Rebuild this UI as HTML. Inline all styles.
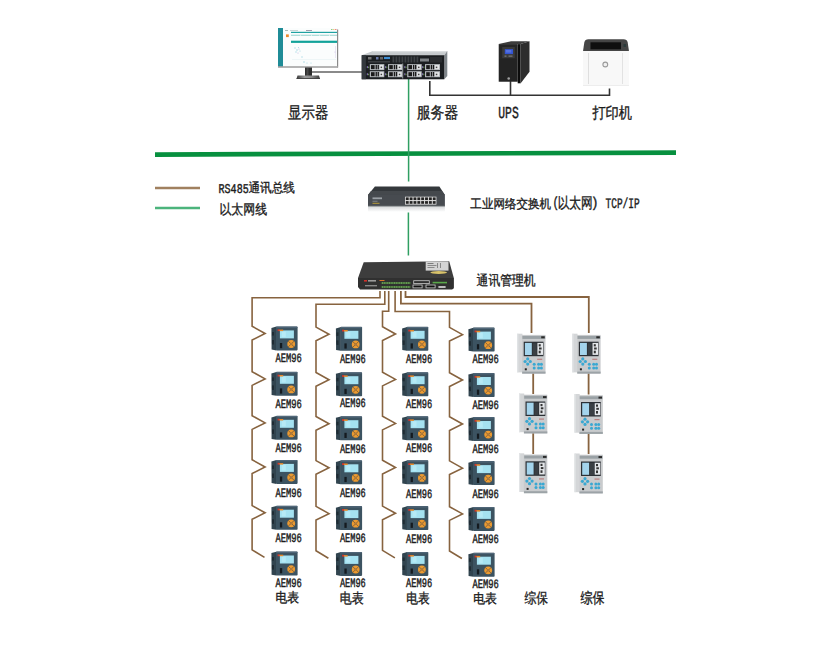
<!DOCTYPE html>
<html><head><meta charset="utf-8"><style>
html,body{margin:0;padding:0;background:#fff;}
body{width:829px;height:669px;overflow:hidden;position:relative;}
svg{position:absolute;left:0;top:0;}
text{font-family:"Liberation Sans",sans-serif;fill:#1c1c1c;stroke:#1c1c1c;stroke-width:0.35px;text-rendering:geometricPrecision}
text.lat{font-family:"Liberation Mono",monospace;stroke-width:0.45px}

</style></head><body>
<svg width="829" height="669" viewBox="0 0 829 669">
<line x1="155" y1="154.6" x2="676" y2="152.6" stroke="#07903f" stroke-width="4.7"/>
<path d="M408.6 79 V181.6 M408.4 212.4 V255.5" stroke="#2f9f62" stroke-width="1.5" fill="none"/>
<path d="M312 72 H362" stroke="#8a8a8a" stroke-width="2" fill="none"/>
<path d="M429.8 81 V95.3 H609.5 V88.5 M510.5 81 V95.3" stroke="#333" stroke-width="1.6" fill="none"/>
<line x1="155" y1="188" x2="200" y2="188" stroke="#a0805f" stroke-width="2.3"/>
<line x1="155" y1="208" x2="200" y2="208" stroke="#4cb47c" stroke-width="2.3"/>
<path d="M380 291 V297.8 H252.1 V326.3 L265.1 333.5 L252.1 340 V371.7 L265.1 378.9 L252.1 385.4 V415.7 L265.1 422.9 L252.1 429.4 V459.8 L265.1 467.0 L252.1 473.5 V505.6 L265.1 512.8 L252.1 519.3 V549.9 L264.5 557.4" stroke="#87633f" stroke-width="1.6" fill="none" stroke-linejoin="miter"/>
<path d="M384.8 291 V304.3 H316 V327.1 L329 334.3 L316 340.8 V372.5 L329 379.7 L316 386.2 V416.5 L329 423.7 L316 430.2 V460.6 L329 467.8 L316 474.3 V506.40000000000003 L329 513.6 L316 520.1 V550.6999999999999 L328.4 558.1999999999999" stroke="#87633f" stroke-width="1.6" fill="none" stroke-linejoin="miter"/>
<path d="M388.7 291 V311.2 H382.5 V326.8 L395.5 334.0 L382.5 340.5 V372.2 L395.5 379.4 L382.5 385.9 V416.2 L395.5 423.4 L382.5 429.9 V460.3 L395.5 467.5 L382.5 474.0 V506.1 L395.5 513.3 L382.5 519.8 V550.4 L394.9 557.9" stroke="#87633f" stroke-width="1.6" fill="none" stroke-linejoin="miter"/>
<path d="M395.1 291 V311.5 H449.5 V327.40000000000003 L462.5 334.6 L449.5 341.1 V372.8 L462.5 380.0 L449.5 386.5 V416.8 L462.5 424.0 L449.5 430.5 V460.90000000000003 L462.5 468.1 L449.5 474.6 V506.70000000000005 L462.5 513.9000000000001 L449.5 520.4000000000001 V551.0 L461.9 558.5" stroke="#87633f" stroke-width="1.6" fill="none" stroke-linejoin="miter"/>
<path d="M400.9 291 V303.6 H531.5 V333 M405.5 291 V297 H588.8 V333 M533.2 373 V394 M533.2 433 V454 M588.6 373 V394.5 M588.6 433 V454" stroke="#87633f" stroke-width="1.8" fill="none"/>
<g>
<rect x="278" y="28" width="60" height="39.3" fill="#fbfdfd"/>
<rect x="278" y="28" width="5" height="39" fill="#1f8c97"/>
<rect x="285" y="30.2" width="3" height="0.8" fill="#9aa"/><rect x="290" y="30.2" width="8" height="0.8" fill="#bcc"/><rect x="306" y="30.2" width="6" height="0.8" fill="#889"/>
<rect x="331" y="29" width="1.5" height="1" fill="#8c8"/><rect x="333" y="29" width="1.5" height="1" fill="#ec8"/><rect x="335" y="29" width="1.5" height="1" fill="#e88"/>
<rect x="291" y="31.8" width="46.5" height="1.2" fill="#1fa2a2"/>
<rect x="291" y="34.7" width="46.5" height="1.2" fill="#a6dad6"/>
<rect x="300" y="34.7" width="0.6" height="1.2" fill="#fff"/><rect x="311" y="34.7" width="0.6" height="1.2" fill="#fff"/><rect x="319.5" y="34.7" width="0.6" height="1.2" fill="#fff"/><rect x="329" y="34.7" width="0.6" height="1.2" fill="#fff"/>
<rect x="286" y="34.4" width="2.8" height="2.7" fill="#ec8a2c"/>
<rect x="291" y="40.7" width="46.5" height="2.2" fill="#12a29a"/>
<g fill="#a8d8e4"><circle cx="295" cy="48" r="0.7"/><circle cx="297" cy="50" r="0.8"/><circle cx="298.5" cy="47.5" r="0.6"/><circle cx="296" cy="52" r="0.7"/><circle cx="300" cy="51" r="0.6"/><circle cx="302" cy="57" r="0.7"/><circle cx="304" cy="62" r="0.8"/><circle cx="307" cy="63" r="0.6"/><circle cx="311" cy="63" r="0.6"/></g>
<g fill="#c8b8e0"><circle cx="298" cy="53" r="0.6"/><circle cx="299" cy="49" r="0.6"/><circle cx="335" cy="52" r="0.5"/></g>
<rect x="335.5" y="46" width="0.5" height="12" fill="#d8d0ec"/>
<rect x="292" y="59.5" width="44" height="0.5" fill="#e0eef0"/>
<rect x="337" y="29.5" width="1.2" height="38" fill="#8a8a8a"/>
<rect x="278" y="66.2" width="60" height="1.6" fill="#a4a4a4"/>
<rect x="305" y="67.5" width="7" height="9" fill="#2e2e2e"/>
<rect x="306.5" y="68" width="2" height="8" fill="#4a4a4a"/>
<defs><linearGradient id="mb" x1="0" y1="0" x2="1" y2="0"><stop offset="0" stop-color="#3a3a3a"/><stop offset="0.35" stop-color="#9a9a9a"/><stop offset="0.65" stop-color="#8a8a8a"/><stop offset="1" stop-color="#3a3a3a"/></linearGradient></defs>
<path d="M297.5 75.6 H319 L320 78.8 H296.5 Z" fill="url(#mb)"/>
<rect x="296.5" y="78" width="23.5" height="0.8" fill="#333"/>
</g>
<g>
<path d="M361.6 55.2 L373 51.1 H447.3 L444.3 55.2 Z" fill="#c6cacd"/>
<path d="M373 51.1 H447.3 L446.5 52.3 H372 Z" fill="#dadddf"/>
<path d="M444.3 55.2 L447.3 51.1 V76 L444.3 79.3 Z" fill="#80878c"/>
<rect x="361.6" y="55.2" width="82.7" height="24.1" fill="#1b1e21"/>
<rect x="361.9" y="55.2" width="4" height="24" fill="#33383d"/>
<rect x="368" y="57" width="3.5" height="2.5" fill="#777"/>
<rect x="376" y="57" width="2.5" height="2.5" fill="#6a7aa8"/>
<rect x="380" y="57" width="3" height="2.5" fill="#666"/>
<rect x="384" y="56.9" width="6" height="2.2" fill="#3f8ed2"/>
<rect x="368" y="61" width="22" height="1.6" fill="#3a3d40"/>
<rect x="392.5" y="56.5" width="1.8" height="6" fill="#3e4246"/>
<rect x="395.5" y="56.5" width="1.8" height="6" fill="#3e4246"/>
<rect x="398.5" y="56.5" width="1.8" height="6" fill="#3e4246"/>
<rect x="401.5" y="56.5" width="1.8" height="6" fill="#3e4246"/>
<rect x="404.5" y="56.5" width="1.8" height="6" fill="#3e4246"/>
<rect x="407.5" y="56.5" width="1.8" height="6" fill="#3e4246"/>
<rect x="410.5" y="56.5" width="1.8" height="6" fill="#3e4246"/>
<rect x="413.5" y="56.5" width="1.8" height="6" fill="#3e4246"/>
<rect x="416.5" y="56.5" width="1.8" height="6" fill="#3e4246"/>
<rect x="420" y="58.5" width="9" height="3" fill="#7d8185"/>
<rect x="430" y="57" width="12" height="5.5" fill="#2a2d30"/>
<rect x="369.8" y="64.1" width="14.5" height="6" fill="#b4b8bc"/>
<rect x="371.0" y="65.1" width="3.6" height="4" fill="#1a1a1a"/>
<rect x="375.6" y="64.89999999999999" width="1.3" height="4.4" fill="#1a1a1a"/>
<rect x="377.6" y="64.89999999999999" width="1.3" height="4.4" fill="#1a1a1a"/>
<rect x="379.8" y="65.1" width="3.5" height="4" fill="#e6e8ea"/>
<rect x="380.6" y="66.6" width="1.5" height="1.5" fill="#444"/>
<rect x="366.8" y="66.1" width="1.2" height="2" fill="#7a6aa8"/>
<rect x="368.1" y="66.6" width="1" height="1.5" fill="#6a9a4a"/>
<rect x="388" y="64.1" width="14.5" height="6" fill="#b4b8bc"/>
<rect x="389.2" y="65.1" width="3.6" height="4" fill="#1a1a1a"/>
<rect x="393.8" y="64.89999999999999" width="1.3" height="4.4" fill="#1a1a1a"/>
<rect x="395.8" y="64.89999999999999" width="1.3" height="4.4" fill="#1a1a1a"/>
<rect x="398" y="65.1" width="3.5" height="4" fill="#e6e8ea"/>
<rect x="398.8" y="66.6" width="1.5" height="1.5" fill="#444"/>
<rect x="385" y="66.1" width="1.2" height="2" fill="#7a6aa8"/>
<rect x="386.3" y="66.6" width="1" height="1.5" fill="#6a9a4a"/>
<rect x="407.2" y="64.1" width="14.5" height="6" fill="#b4b8bc"/>
<rect x="408.4" y="65.1" width="3.6" height="4" fill="#1a1a1a"/>
<rect x="413.0" y="64.89999999999999" width="1.3" height="4.4" fill="#1a1a1a"/>
<rect x="415.0" y="64.89999999999999" width="1.3" height="4.4" fill="#1a1a1a"/>
<rect x="417.2" y="65.1" width="3.5" height="4" fill="#e6e8ea"/>
<rect x="418.0" y="66.6" width="1.5" height="1.5" fill="#444"/>
<rect x="404.2" y="66.1" width="1.2" height="2" fill="#7a6aa8"/>
<rect x="405.5" y="66.6" width="1" height="1.5" fill="#6a9a4a"/>
<rect x="425" y="64.1" width="15" height="6" fill="#b4b8bc"/>
<rect x="426.2" y="65.1" width="3.6" height="4" fill="#1a1a1a"/>
<rect x="430.8" y="64.89999999999999" width="1.3" height="4.4" fill="#1a1a1a"/>
<rect x="432.8" y="64.89999999999999" width="1.3" height="4.4" fill="#1a1a1a"/>
<rect x="435" y="65.1" width="4" height="4" fill="#e6e8ea"/>
<rect x="435.8" y="66.6" width="1.5" height="1.5" fill="#444"/>
<rect x="422" y="66.1" width="1.2" height="2" fill="#7a6aa8"/>
<rect x="423.3" y="66.6" width="1" height="1.5" fill="#6a9a4a"/>
<rect x="369.8" y="71.2" width="14.5" height="6" fill="#b4b8bc"/>
<rect x="371.0" y="72.2" width="3.6" height="4" fill="#1a1a1a"/>
<rect x="375.6" y="72.0" width="1.3" height="4.4" fill="#1a1a1a"/>
<rect x="377.6" y="72.0" width="1.3" height="4.4" fill="#1a1a1a"/>
<rect x="379.8" y="72.2" width="3.5" height="4" fill="#e6e8ea"/>
<rect x="380.6" y="73.7" width="1.5" height="1.5" fill="#444"/>
<rect x="366.8" y="73.2" width="1.2" height="2" fill="#7a6aa8"/>
<rect x="368.1" y="73.7" width="1" height="1.5" fill="#6a9a4a"/>
<rect x="388" y="71.2" width="14.5" height="6" fill="#b4b8bc"/>
<rect x="389.2" y="72.2" width="3.6" height="4" fill="#1a1a1a"/>
<rect x="393.8" y="72.0" width="1.3" height="4.4" fill="#1a1a1a"/>
<rect x="395.8" y="72.0" width="1.3" height="4.4" fill="#1a1a1a"/>
<rect x="398" y="72.2" width="3.5" height="4" fill="#e6e8ea"/>
<rect x="398.8" y="73.7" width="1.5" height="1.5" fill="#444"/>
<rect x="385" y="73.2" width="1.2" height="2" fill="#7a6aa8"/>
<rect x="386.3" y="73.7" width="1" height="1.5" fill="#6a9a4a"/>
<rect x="407.2" y="71.2" width="14.5" height="6" fill="#b4b8bc"/>
<rect x="408.4" y="72.2" width="3.6" height="4" fill="#1a1a1a"/>
<rect x="413.0" y="72.0" width="1.3" height="4.4" fill="#1a1a1a"/>
<rect x="415.0" y="72.0" width="1.3" height="4.4" fill="#1a1a1a"/>
<rect x="417.2" y="72.2" width="3.5" height="4" fill="#e6e8ea"/>
<rect x="418.0" y="73.7" width="1.5" height="1.5" fill="#444"/>
<rect x="404.2" y="73.2" width="1.2" height="2" fill="#7a6aa8"/>
<rect x="405.5" y="73.7" width="1" height="1.5" fill="#6a9a4a"/>
<rect x="425" y="71.2" width="15" height="6" fill="#b4b8bc"/>
<rect x="426.2" y="72.2" width="3.6" height="4" fill="#1a1a1a"/>
<rect x="430.8" y="72.0" width="1.3" height="4.4" fill="#1a1a1a"/>
<rect x="432.8" y="72.0" width="1.3" height="4.4" fill="#1a1a1a"/>
<rect x="435" y="72.2" width="4" height="4" fill="#e6e8ea"/>
<rect x="435.8" y="73.7" width="1.5" height="1.5" fill="#444"/>
<rect x="422" y="73.2" width="1.2" height="2" fill="#7a6aa8"/>
<rect x="423.3" y="73.7" width="1" height="1.5" fill="#6a9a4a"/>
<rect x="402.2" y="63.5" width="1" height="15" fill="#9a9ea2"/>
</g>
<g>
<path d="M498.7 44.1 L511 41.2 H529.5 L520.5 44.1 Z" fill="#3c3c3c"/>
<path d="M520.5 44.1 L529.5 41.2 V71.8 L520.5 83.5 Z" fill="#2d2d2d"/>
<rect x="498.7" y="44.1" width="19" height="37.6" fill="#2e2e2e"/>
<rect x="499.3" y="44.6" width="17.8" height="36.6" fill="#262626"/>
<rect x="517.7" y="44.1" width="2.8" height="39.2" fill="#0c0c0c"/>
<rect x="502.2" y="47" width="12.6" height="11.1" fill="#3a3a3a"/>
<rect x="504.8" y="49.1" width="8.2" height="5" fill="#3454d2"/>
<rect x="505.8" y="50" width="5.5" height="2.6" fill="#6a86e6" opacity="0.6"/>
<rect x="504.5" y="55.6" width="2" height="1" fill="#888"/><rect x="508.5" y="55.6" width="4" height="1" fill="#888"/>
<rect x="499.5" y="59" width="17.5" height="21.5" fill="#232323"/>
<circle cx="508.7" cy="78.5" r="1.3" fill="#a0a0a0"/>
</g>
<g>
<path d="M583 51.2 L584.3 42.5 Q585 39.2 588.5 39.2 H623.5 Q627 39.2 627.7 42.5 L629 51.2 Z" fill="#454545"/>
<rect x="590.5" y="42.3" width="30.5" height="7" fill="#0f0f0f"/>
<rect x="623.5" y="44" width="2.5" height="3" fill="#2a3a3a"/>
<rect x="583" y="51" width="46" height="34.6" fill="#f8f8f8"/>
<rect x="588.3" y="53" width="0.7" height="31" fill="#d4d4d4"/>
<rect x="622.2" y="53" width="0.7" height="31" fill="#d8d8d8"/>
<rect x="583" y="85" width="46" height="0.6" fill="#e4e4e4"/>
<circle cx="605.3" cy="64.5" r="2.4" fill="#f0f0f0" stroke="#9a9a9a" stroke-width="1.1"/>
</g>
<g>
<path d="M374.9 186.5 H439.4 L444.9 194.9 H368 Z" fill="#34383c"/>
<path d="M371 191 H442 L444.9 194.9 H368 Z" fill="#45494d"/>
<rect x="368" y="194.9" width="76.9" height="11.5" fill="#474b50"/>
<defs><linearGradient id="swr" x1="0" y1="0" x2="0" y2="1"><stop offset="0" stop-color="#d6d8da"/><stop offset="1" stop-color="#ffffff"/></linearGradient></defs>
<rect x="368" y="206.4" width="76.9" height="5.5" fill="url(#swr)"/>
<rect x="368" y="205.6" width="76.9" height="0.8" fill="#6a6e72"/>
<rect x="405" y="196.7" width="31.4" height="7.9" fill="#e4e4e4"/>
<rect x="372.5" y="197.4" width="9.5" height="1.8" fill="#9aa0a5"/>
<rect x="372.5" y="200.8" width="5" height="0.8" fill="#8a8f94"/>
<rect x="372.5" y="202.8" width="7" height="1" fill="#b39a3a"/>
<rect x="405.8" y="197.4" width="2.9" height="2.7" fill="#222"/>
<rect x="409.65000000000003" y="197.4" width="2.9" height="2.7" fill="#222"/>
<rect x="413.5" y="197.4" width="2.9" height="2.7" fill="#222"/>
<rect x="417.35" y="197.4" width="2.9" height="2.7" fill="#222"/>
<rect x="421.2" y="197.4" width="2.9" height="2.7" fill="#222"/>
<rect x="425.05" y="197.4" width="2.9" height="2.7" fill="#222"/>
<rect x="428.90000000000003" y="197.4" width="2.9" height="2.7" fill="#222"/>
<rect x="432.75" y="197.4" width="2.9" height="2.7" fill="#222"/>
<rect x="405.8" y="201.1" width="2.9" height="2.7" fill="#222"/>
<rect x="409.65000000000003" y="201.1" width="2.9" height="2.7" fill="#222"/>
<rect x="413.5" y="201.1" width="2.9" height="2.7" fill="#222"/>
<rect x="417.35" y="201.1" width="2.9" height="2.7" fill="#222"/>
<rect x="421.2" y="201.1" width="2.9" height="2.7" fill="#222"/>
<rect x="425.05" y="201.1" width="2.9" height="2.7" fill="#222"/>
<rect x="428.90000000000003" y="201.1" width="2.9" height="2.7" fill="#222"/>
<rect x="432.75" y="201.1" width="2.9" height="2.7" fill="#222"/>
</g>
<g>
<path d="M363.7 262.2 L449.2 261.2 L453.9 278.2 L358 277.9 Z" fill="#3d3d3d"/>
<path d="M358 277.9 H453.9 V288.3 L452.1 289.4 H360.1 L358 287 Z" fill="#303030"/>
<rect x="425.7" y="261.5" width="22.8" height="9.1" fill="#d4d4d4"/>
<rect x="427.5" y="263" width="6" height="0.8" fill="#666"/><rect x="427.5" y="265" width="9" height="0.8" fill="#777"/><rect x="427.5" y="267" width="7" height="0.8" fill="#777"/><rect x="437" y="263" width="1" height="5" fill="#888"/><rect x="440" y="263" width="1" height="5" fill="#888"/>
<ellipse cx="438.7" cy="272.5" rx="8.3" ry="1.4" fill="#d8c26a"/>
<rect x="364" y="280" width="3" height="1.6" fill="#d0302a"/>
<rect x="368" y="280" width="8" height="1.6" fill="#9a9a9a"/>
<rect x="379.5" y="280" width="5" height="1" fill="#d8742a"/>
<path d="M381.5 283 H410.5 M381.5 287 H410.5" stroke="#4f8a3c" stroke-width="1.4"/>
<path d="M382 283 H410 M382 287 H410" stroke="#a8d890" stroke-width="0.8" stroke-dasharray="0.8 1.6"/>
<rect x="365" y="285" width="12" height="1.4" fill="#888"/>
<rect x="413.7" y="280.7" width="15.6" height="2.9" fill="none" stroke="#c8c8c8" stroke-width="0.8"/>
<rect x="413" y="285" width="9.1" height="2.9" fill="#111" stroke="#d0d0d0" stroke-width="0.8"/>
<rect x="426" y="285" width="9.1" height="2.9" fill="#111" stroke="#d0d0d0" stroke-width="0.8"/>
<rect x="432.6" y="281.8" width="14.4" height="1.6" fill="#5aa84a"/>
<rect x="438.4" y="286" width="7.2" height="2" fill="#bdbdbd"/>
</g>
<g transform="translate(270.8,326)">
<path d="M0.6 2 L5.6 0.6 V24.4 L0.8 23.6 Z" fill="#31444f"/>
<rect x="1.2" y="6" width="2" height="3.5" fill="#1f2b33"/><rect x="1.2" y="14" width="2" height="4.5" fill="#1f2b33"/>
<rect x="5.2" y="0.4" width="21.6" height="24" rx="0.8" fill="#3c5361"/>
<rect x="5.6" y="0.6" width="20.8" height="1.2" fill="#52687a"/>
<rect x="9.1" y="4.4" width="14" height="8" fill="#a5e2f1"/>
<rect x="11" y="5.5" width="4" height="5.5" fill="#bdeef8" opacity="0.7"/>
<rect x="6.8" y="3.3" width="2" height="1.8" fill="#d8342a"/>
<rect x="8.6" y="3.6" width="3.8" height="1.5" fill="#e88a2a"/>
<rect x="9.1" y="17" width="2.3" height="5.2" fill="#141a1f"/>
<circle cx="20.4" cy="18" r="3.9" fill="#ec9a30"/>
<path d="M17.3 15 L23.5 21 M23.5 15 L17.3 21" stroke="#5a5040" stroke-width="0.7"/>
<circle cx="20.4" cy="18" r="1.3" fill="#b07a3a"/>
</g>
<g transform="translate(270.8,371.4)">
<path d="M0.6 2 L5.6 0.6 V24.4 L0.8 23.6 Z" fill="#31444f"/>
<rect x="1.2" y="6" width="2" height="3.5" fill="#1f2b33"/><rect x="1.2" y="14" width="2" height="4.5" fill="#1f2b33"/>
<rect x="5.2" y="0.4" width="21.6" height="24" rx="0.8" fill="#3c5361"/>
<rect x="5.6" y="0.6" width="20.8" height="1.2" fill="#52687a"/>
<rect x="9.1" y="4.4" width="14" height="8" fill="#a5e2f1"/>
<rect x="11" y="5.5" width="4" height="5.5" fill="#bdeef8" opacity="0.7"/>
<rect x="6.8" y="3.3" width="2" height="1.8" fill="#d8342a"/>
<rect x="8.6" y="3.6" width="3.8" height="1.5" fill="#e88a2a"/>
<rect x="9.1" y="17" width="2.3" height="5.2" fill="#141a1f"/>
<circle cx="20.4" cy="18" r="3.9" fill="#ec9a30"/>
<path d="M17.3 15 L23.5 21 M23.5 15 L17.3 21" stroke="#5a5040" stroke-width="0.7"/>
<circle cx="20.4" cy="18" r="1.3" fill="#b07a3a"/>
</g>
<g transform="translate(270.8,415.4)">
<path d="M0.6 2 L5.6 0.6 V24.4 L0.8 23.6 Z" fill="#31444f"/>
<rect x="1.2" y="6" width="2" height="3.5" fill="#1f2b33"/><rect x="1.2" y="14" width="2" height="4.5" fill="#1f2b33"/>
<rect x="5.2" y="0.4" width="21.6" height="24" rx="0.8" fill="#3c5361"/>
<rect x="5.6" y="0.6" width="20.8" height="1.2" fill="#52687a"/>
<rect x="9.1" y="4.4" width="14" height="8" fill="#a5e2f1"/>
<rect x="11" y="5.5" width="4" height="5.5" fill="#bdeef8" opacity="0.7"/>
<rect x="6.8" y="3.3" width="2" height="1.8" fill="#d8342a"/>
<rect x="8.6" y="3.6" width="3.8" height="1.5" fill="#e88a2a"/>
<rect x="9.1" y="17" width="2.3" height="5.2" fill="#141a1f"/>
<circle cx="20.4" cy="18" r="3.9" fill="#ec9a30"/>
<path d="M17.3 15 L23.5 21 M23.5 15 L17.3 21" stroke="#5a5040" stroke-width="0.7"/>
<circle cx="20.4" cy="18" r="1.3" fill="#b07a3a"/>
</g>
<g transform="translate(270.8,459.5)">
<path d="M0.6 2 L5.6 0.6 V24.4 L0.8 23.6 Z" fill="#31444f"/>
<rect x="1.2" y="6" width="2" height="3.5" fill="#1f2b33"/><rect x="1.2" y="14" width="2" height="4.5" fill="#1f2b33"/>
<rect x="5.2" y="0.4" width="21.6" height="24" rx="0.8" fill="#3c5361"/>
<rect x="5.6" y="0.6" width="20.8" height="1.2" fill="#52687a"/>
<rect x="9.1" y="4.4" width="14" height="8" fill="#a5e2f1"/>
<rect x="11" y="5.5" width="4" height="5.5" fill="#bdeef8" opacity="0.7"/>
<rect x="6.8" y="3.3" width="2" height="1.8" fill="#d8342a"/>
<rect x="8.6" y="3.6" width="3.8" height="1.5" fill="#e88a2a"/>
<rect x="9.1" y="17" width="2.3" height="5.2" fill="#141a1f"/>
<circle cx="20.4" cy="18" r="3.9" fill="#ec9a30"/>
<path d="M17.3 15 L23.5 21 M23.5 15 L17.3 21" stroke="#5a5040" stroke-width="0.7"/>
<circle cx="20.4" cy="18" r="1.3" fill="#b07a3a"/>
</g>
<g transform="translate(270.8,505.3)">
<path d="M0.6 2 L5.6 0.6 V24.4 L0.8 23.6 Z" fill="#31444f"/>
<rect x="1.2" y="6" width="2" height="3.5" fill="#1f2b33"/><rect x="1.2" y="14" width="2" height="4.5" fill="#1f2b33"/>
<rect x="5.2" y="0.4" width="21.6" height="24" rx="0.8" fill="#3c5361"/>
<rect x="5.6" y="0.6" width="20.8" height="1.2" fill="#52687a"/>
<rect x="9.1" y="4.4" width="14" height="8" fill="#a5e2f1"/>
<rect x="11" y="5.5" width="4" height="5.5" fill="#bdeef8" opacity="0.7"/>
<rect x="6.8" y="3.3" width="2" height="1.8" fill="#d8342a"/>
<rect x="8.6" y="3.6" width="3.8" height="1.5" fill="#e88a2a"/>
<rect x="9.1" y="17" width="2.3" height="5.2" fill="#141a1f"/>
<circle cx="20.4" cy="18" r="3.9" fill="#ec9a30"/>
<path d="M17.3 15 L23.5 21 M23.5 15 L17.3 21" stroke="#5a5040" stroke-width="0.7"/>
<circle cx="20.4" cy="18" r="1.3" fill="#b07a3a"/>
</g>
<g transform="translate(270.8,551.1)">
<path d="M0.6 2 L5.6 0.6 V24.4 L0.8 23.6 Z" fill="#31444f"/>
<rect x="1.2" y="6" width="2" height="3.5" fill="#1f2b33"/><rect x="1.2" y="14" width="2" height="4.5" fill="#1f2b33"/>
<rect x="5.2" y="0.4" width="21.6" height="24" rx="0.8" fill="#3c5361"/>
<rect x="5.6" y="0.6" width="20.8" height="1.2" fill="#52687a"/>
<rect x="9.1" y="4.4" width="14" height="8" fill="#a5e2f1"/>
<rect x="11" y="5.5" width="4" height="5.5" fill="#bdeef8" opacity="0.7"/>
<rect x="6.8" y="3.3" width="2" height="1.8" fill="#d8342a"/>
<rect x="8.6" y="3.6" width="3.8" height="1.5" fill="#e88a2a"/>
<rect x="9.1" y="17" width="2.3" height="5.2" fill="#141a1f"/>
<circle cx="20.4" cy="18" r="3.9" fill="#ec9a30"/>
<path d="M17.3 15 L23.5 21 M23.5 15 L17.3 21" stroke="#5a5040" stroke-width="0.7"/>
<circle cx="20.4" cy="18" r="1.3" fill="#b07a3a"/>
</g>
<g transform="translate(335.3,326.4)">
<path d="M0.6 2 L5.6 0.6 V24.4 L0.8 23.6 Z" fill="#31444f"/>
<rect x="1.2" y="6" width="2" height="3.5" fill="#1f2b33"/><rect x="1.2" y="14" width="2" height="4.5" fill="#1f2b33"/>
<rect x="5.2" y="0.4" width="21.6" height="24" rx="0.8" fill="#3c5361"/>
<rect x="5.6" y="0.6" width="20.8" height="1.2" fill="#52687a"/>
<rect x="9.1" y="4.4" width="14" height="8" fill="#a5e2f1"/>
<rect x="11" y="5.5" width="4" height="5.5" fill="#bdeef8" opacity="0.7"/>
<rect x="6.8" y="3.3" width="2" height="1.8" fill="#d8342a"/>
<rect x="8.6" y="3.6" width="3.8" height="1.5" fill="#e88a2a"/>
<rect x="9.1" y="17" width="2.3" height="5.2" fill="#141a1f"/>
<circle cx="20.4" cy="18" r="3.9" fill="#ec9a30"/>
<path d="M17.3 15 L23.5 21 M23.5 15 L17.3 21" stroke="#5a5040" stroke-width="0.7"/>
<circle cx="20.4" cy="18" r="1.3" fill="#b07a3a"/>
</g>
<g transform="translate(335.3,371.79999999999995)">
<path d="M0.6 2 L5.6 0.6 V24.4 L0.8 23.6 Z" fill="#31444f"/>
<rect x="1.2" y="6" width="2" height="3.5" fill="#1f2b33"/><rect x="1.2" y="14" width="2" height="4.5" fill="#1f2b33"/>
<rect x="5.2" y="0.4" width="21.6" height="24" rx="0.8" fill="#3c5361"/>
<rect x="5.6" y="0.6" width="20.8" height="1.2" fill="#52687a"/>
<rect x="9.1" y="4.4" width="14" height="8" fill="#a5e2f1"/>
<rect x="11" y="5.5" width="4" height="5.5" fill="#bdeef8" opacity="0.7"/>
<rect x="6.8" y="3.3" width="2" height="1.8" fill="#d8342a"/>
<rect x="8.6" y="3.6" width="3.8" height="1.5" fill="#e88a2a"/>
<rect x="9.1" y="17" width="2.3" height="5.2" fill="#141a1f"/>
<circle cx="20.4" cy="18" r="3.9" fill="#ec9a30"/>
<path d="M17.3 15 L23.5 21 M23.5 15 L17.3 21" stroke="#5a5040" stroke-width="0.7"/>
<circle cx="20.4" cy="18" r="1.3" fill="#b07a3a"/>
</g>
<g transform="translate(335.3,415.79999999999995)">
<path d="M0.6 2 L5.6 0.6 V24.4 L0.8 23.6 Z" fill="#31444f"/>
<rect x="1.2" y="6" width="2" height="3.5" fill="#1f2b33"/><rect x="1.2" y="14" width="2" height="4.5" fill="#1f2b33"/>
<rect x="5.2" y="0.4" width="21.6" height="24" rx="0.8" fill="#3c5361"/>
<rect x="5.6" y="0.6" width="20.8" height="1.2" fill="#52687a"/>
<rect x="9.1" y="4.4" width="14" height="8" fill="#a5e2f1"/>
<rect x="11" y="5.5" width="4" height="5.5" fill="#bdeef8" opacity="0.7"/>
<rect x="6.8" y="3.3" width="2" height="1.8" fill="#d8342a"/>
<rect x="8.6" y="3.6" width="3.8" height="1.5" fill="#e88a2a"/>
<rect x="9.1" y="17" width="2.3" height="5.2" fill="#141a1f"/>
<circle cx="20.4" cy="18" r="3.9" fill="#ec9a30"/>
<path d="M17.3 15 L23.5 21 M23.5 15 L17.3 21" stroke="#5a5040" stroke-width="0.7"/>
<circle cx="20.4" cy="18" r="1.3" fill="#b07a3a"/>
</g>
<g transform="translate(335.3,459.9)">
<path d="M0.6 2 L5.6 0.6 V24.4 L0.8 23.6 Z" fill="#31444f"/>
<rect x="1.2" y="6" width="2" height="3.5" fill="#1f2b33"/><rect x="1.2" y="14" width="2" height="4.5" fill="#1f2b33"/>
<rect x="5.2" y="0.4" width="21.6" height="24" rx="0.8" fill="#3c5361"/>
<rect x="5.6" y="0.6" width="20.8" height="1.2" fill="#52687a"/>
<rect x="9.1" y="4.4" width="14" height="8" fill="#a5e2f1"/>
<rect x="11" y="5.5" width="4" height="5.5" fill="#bdeef8" opacity="0.7"/>
<rect x="6.8" y="3.3" width="2" height="1.8" fill="#d8342a"/>
<rect x="8.6" y="3.6" width="3.8" height="1.5" fill="#e88a2a"/>
<rect x="9.1" y="17" width="2.3" height="5.2" fill="#141a1f"/>
<circle cx="20.4" cy="18" r="3.9" fill="#ec9a30"/>
<path d="M17.3 15 L23.5 21 M23.5 15 L17.3 21" stroke="#5a5040" stroke-width="0.7"/>
<circle cx="20.4" cy="18" r="1.3" fill="#b07a3a"/>
</g>
<g transform="translate(335.3,505.7)">
<path d="M0.6 2 L5.6 0.6 V24.4 L0.8 23.6 Z" fill="#31444f"/>
<rect x="1.2" y="6" width="2" height="3.5" fill="#1f2b33"/><rect x="1.2" y="14" width="2" height="4.5" fill="#1f2b33"/>
<rect x="5.2" y="0.4" width="21.6" height="24" rx="0.8" fill="#3c5361"/>
<rect x="5.6" y="0.6" width="20.8" height="1.2" fill="#52687a"/>
<rect x="9.1" y="4.4" width="14" height="8" fill="#a5e2f1"/>
<rect x="11" y="5.5" width="4" height="5.5" fill="#bdeef8" opacity="0.7"/>
<rect x="6.8" y="3.3" width="2" height="1.8" fill="#d8342a"/>
<rect x="8.6" y="3.6" width="3.8" height="1.5" fill="#e88a2a"/>
<rect x="9.1" y="17" width="2.3" height="5.2" fill="#141a1f"/>
<circle cx="20.4" cy="18" r="3.9" fill="#ec9a30"/>
<path d="M17.3 15 L23.5 21 M23.5 15 L17.3 21" stroke="#5a5040" stroke-width="0.7"/>
<circle cx="20.4" cy="18" r="1.3" fill="#b07a3a"/>
</g>
<g transform="translate(335.3,551.5)">
<path d="M0.6 2 L5.6 0.6 V24.4 L0.8 23.6 Z" fill="#31444f"/>
<rect x="1.2" y="6" width="2" height="3.5" fill="#1f2b33"/><rect x="1.2" y="14" width="2" height="4.5" fill="#1f2b33"/>
<rect x="5.2" y="0.4" width="21.6" height="24" rx="0.8" fill="#3c5361"/>
<rect x="5.6" y="0.6" width="20.8" height="1.2" fill="#52687a"/>
<rect x="9.1" y="4.4" width="14" height="8" fill="#a5e2f1"/>
<rect x="11" y="5.5" width="4" height="5.5" fill="#bdeef8" opacity="0.7"/>
<rect x="6.8" y="3.3" width="2" height="1.8" fill="#d8342a"/>
<rect x="8.6" y="3.6" width="3.8" height="1.5" fill="#e88a2a"/>
<rect x="9.1" y="17" width="2.3" height="5.2" fill="#141a1f"/>
<circle cx="20.4" cy="18" r="3.9" fill="#ec9a30"/>
<path d="M17.3 15 L23.5 21 M23.5 15 L17.3 21" stroke="#5a5040" stroke-width="0.7"/>
<circle cx="20.4" cy="18" r="1.3" fill="#b07a3a"/>
</g>
<g transform="translate(401.5,326.4)">
<path d="M0.6 2 L5.6 0.6 V24.4 L0.8 23.6 Z" fill="#31444f"/>
<rect x="1.2" y="6" width="2" height="3.5" fill="#1f2b33"/><rect x="1.2" y="14" width="2" height="4.5" fill="#1f2b33"/>
<rect x="5.2" y="0.4" width="21.6" height="24" rx="0.8" fill="#3c5361"/>
<rect x="5.6" y="0.6" width="20.8" height="1.2" fill="#52687a"/>
<rect x="9.1" y="4.4" width="14" height="8" fill="#a5e2f1"/>
<rect x="11" y="5.5" width="4" height="5.5" fill="#bdeef8" opacity="0.7"/>
<rect x="6.8" y="3.3" width="2" height="1.8" fill="#d8342a"/>
<rect x="8.6" y="3.6" width="3.8" height="1.5" fill="#e88a2a"/>
<rect x="9.1" y="17" width="2.3" height="5.2" fill="#141a1f"/>
<circle cx="20.4" cy="18" r="3.9" fill="#ec9a30"/>
<path d="M17.3 15 L23.5 21 M23.5 15 L17.3 21" stroke="#5a5040" stroke-width="0.7"/>
<circle cx="20.4" cy="18" r="1.3" fill="#b07a3a"/>
</g>
<g transform="translate(401.5,371.79999999999995)">
<path d="M0.6 2 L5.6 0.6 V24.4 L0.8 23.6 Z" fill="#31444f"/>
<rect x="1.2" y="6" width="2" height="3.5" fill="#1f2b33"/><rect x="1.2" y="14" width="2" height="4.5" fill="#1f2b33"/>
<rect x="5.2" y="0.4" width="21.6" height="24" rx="0.8" fill="#3c5361"/>
<rect x="5.6" y="0.6" width="20.8" height="1.2" fill="#52687a"/>
<rect x="9.1" y="4.4" width="14" height="8" fill="#a5e2f1"/>
<rect x="11" y="5.5" width="4" height="5.5" fill="#bdeef8" opacity="0.7"/>
<rect x="6.8" y="3.3" width="2" height="1.8" fill="#d8342a"/>
<rect x="8.6" y="3.6" width="3.8" height="1.5" fill="#e88a2a"/>
<rect x="9.1" y="17" width="2.3" height="5.2" fill="#141a1f"/>
<circle cx="20.4" cy="18" r="3.9" fill="#ec9a30"/>
<path d="M17.3 15 L23.5 21 M23.5 15 L17.3 21" stroke="#5a5040" stroke-width="0.7"/>
<circle cx="20.4" cy="18" r="1.3" fill="#b07a3a"/>
</g>
<g transform="translate(401.5,415.79999999999995)">
<path d="M0.6 2 L5.6 0.6 V24.4 L0.8 23.6 Z" fill="#31444f"/>
<rect x="1.2" y="6" width="2" height="3.5" fill="#1f2b33"/><rect x="1.2" y="14" width="2" height="4.5" fill="#1f2b33"/>
<rect x="5.2" y="0.4" width="21.6" height="24" rx="0.8" fill="#3c5361"/>
<rect x="5.6" y="0.6" width="20.8" height="1.2" fill="#52687a"/>
<rect x="9.1" y="4.4" width="14" height="8" fill="#a5e2f1"/>
<rect x="11" y="5.5" width="4" height="5.5" fill="#bdeef8" opacity="0.7"/>
<rect x="6.8" y="3.3" width="2" height="1.8" fill="#d8342a"/>
<rect x="8.6" y="3.6" width="3.8" height="1.5" fill="#e88a2a"/>
<rect x="9.1" y="17" width="2.3" height="5.2" fill="#141a1f"/>
<circle cx="20.4" cy="18" r="3.9" fill="#ec9a30"/>
<path d="M17.3 15 L23.5 21 M23.5 15 L17.3 21" stroke="#5a5040" stroke-width="0.7"/>
<circle cx="20.4" cy="18" r="1.3" fill="#b07a3a"/>
</g>
<g transform="translate(401.5,459.9)">
<path d="M0.6 2 L5.6 0.6 V24.4 L0.8 23.6 Z" fill="#31444f"/>
<rect x="1.2" y="6" width="2" height="3.5" fill="#1f2b33"/><rect x="1.2" y="14" width="2" height="4.5" fill="#1f2b33"/>
<rect x="5.2" y="0.4" width="21.6" height="24" rx="0.8" fill="#3c5361"/>
<rect x="5.6" y="0.6" width="20.8" height="1.2" fill="#52687a"/>
<rect x="9.1" y="4.4" width="14" height="8" fill="#a5e2f1"/>
<rect x="11" y="5.5" width="4" height="5.5" fill="#bdeef8" opacity="0.7"/>
<rect x="6.8" y="3.3" width="2" height="1.8" fill="#d8342a"/>
<rect x="8.6" y="3.6" width="3.8" height="1.5" fill="#e88a2a"/>
<rect x="9.1" y="17" width="2.3" height="5.2" fill="#141a1f"/>
<circle cx="20.4" cy="18" r="3.9" fill="#ec9a30"/>
<path d="M17.3 15 L23.5 21 M23.5 15 L17.3 21" stroke="#5a5040" stroke-width="0.7"/>
<circle cx="20.4" cy="18" r="1.3" fill="#b07a3a"/>
</g>
<g transform="translate(401.5,505.7)">
<path d="M0.6 2 L5.6 0.6 V24.4 L0.8 23.6 Z" fill="#31444f"/>
<rect x="1.2" y="6" width="2" height="3.5" fill="#1f2b33"/><rect x="1.2" y="14" width="2" height="4.5" fill="#1f2b33"/>
<rect x="5.2" y="0.4" width="21.6" height="24" rx="0.8" fill="#3c5361"/>
<rect x="5.6" y="0.6" width="20.8" height="1.2" fill="#52687a"/>
<rect x="9.1" y="4.4" width="14" height="8" fill="#a5e2f1"/>
<rect x="11" y="5.5" width="4" height="5.5" fill="#bdeef8" opacity="0.7"/>
<rect x="6.8" y="3.3" width="2" height="1.8" fill="#d8342a"/>
<rect x="8.6" y="3.6" width="3.8" height="1.5" fill="#e88a2a"/>
<rect x="9.1" y="17" width="2.3" height="5.2" fill="#141a1f"/>
<circle cx="20.4" cy="18" r="3.9" fill="#ec9a30"/>
<path d="M17.3 15 L23.5 21 M23.5 15 L17.3 21" stroke="#5a5040" stroke-width="0.7"/>
<circle cx="20.4" cy="18" r="1.3" fill="#b07a3a"/>
</g>
<g transform="translate(401.5,551.5)">
<path d="M0.6 2 L5.6 0.6 V24.4 L0.8 23.6 Z" fill="#31444f"/>
<rect x="1.2" y="6" width="2" height="3.5" fill="#1f2b33"/><rect x="1.2" y="14" width="2" height="4.5" fill="#1f2b33"/>
<rect x="5.2" y="0.4" width="21.6" height="24" rx="0.8" fill="#3c5361"/>
<rect x="5.6" y="0.6" width="20.8" height="1.2" fill="#52687a"/>
<rect x="9.1" y="4.4" width="14" height="8" fill="#a5e2f1"/>
<rect x="11" y="5.5" width="4" height="5.5" fill="#bdeef8" opacity="0.7"/>
<rect x="6.8" y="3.3" width="2" height="1.8" fill="#d8342a"/>
<rect x="8.6" y="3.6" width="3.8" height="1.5" fill="#e88a2a"/>
<rect x="9.1" y="17" width="2.3" height="5.2" fill="#141a1f"/>
<circle cx="20.4" cy="18" r="3.9" fill="#ec9a30"/>
<path d="M17.3 15 L23.5 21 M23.5 15 L17.3 21" stroke="#5a5040" stroke-width="0.7"/>
<circle cx="20.4" cy="18" r="1.3" fill="#b07a3a"/>
</g>
<g transform="translate(467.8,327.2)">
<path d="M0.6 2 L5.6 0.6 V24.4 L0.8 23.6 Z" fill="#31444f"/>
<rect x="1.2" y="6" width="2" height="3.5" fill="#1f2b33"/><rect x="1.2" y="14" width="2" height="4.5" fill="#1f2b33"/>
<rect x="5.2" y="0.4" width="21.6" height="24" rx="0.8" fill="#3c5361"/>
<rect x="5.6" y="0.6" width="20.8" height="1.2" fill="#52687a"/>
<rect x="9.1" y="4.4" width="14" height="8" fill="#a5e2f1"/>
<rect x="11" y="5.5" width="4" height="5.5" fill="#bdeef8" opacity="0.7"/>
<rect x="6.8" y="3.3" width="2" height="1.8" fill="#d8342a"/>
<rect x="8.6" y="3.6" width="3.8" height="1.5" fill="#e88a2a"/>
<rect x="9.1" y="17" width="2.3" height="5.2" fill="#141a1f"/>
<circle cx="20.4" cy="18" r="3.9" fill="#ec9a30"/>
<path d="M17.3 15 L23.5 21 M23.5 15 L17.3 21" stroke="#5a5040" stroke-width="0.7"/>
<circle cx="20.4" cy="18" r="1.3" fill="#b07a3a"/>
</g>
<g transform="translate(467.8,372.59999999999997)">
<path d="M0.6 2 L5.6 0.6 V24.4 L0.8 23.6 Z" fill="#31444f"/>
<rect x="1.2" y="6" width="2" height="3.5" fill="#1f2b33"/><rect x="1.2" y="14" width="2" height="4.5" fill="#1f2b33"/>
<rect x="5.2" y="0.4" width="21.6" height="24" rx="0.8" fill="#3c5361"/>
<rect x="5.6" y="0.6" width="20.8" height="1.2" fill="#52687a"/>
<rect x="9.1" y="4.4" width="14" height="8" fill="#a5e2f1"/>
<rect x="11" y="5.5" width="4" height="5.5" fill="#bdeef8" opacity="0.7"/>
<rect x="6.8" y="3.3" width="2" height="1.8" fill="#d8342a"/>
<rect x="8.6" y="3.6" width="3.8" height="1.5" fill="#e88a2a"/>
<rect x="9.1" y="17" width="2.3" height="5.2" fill="#141a1f"/>
<circle cx="20.4" cy="18" r="3.9" fill="#ec9a30"/>
<path d="M17.3 15 L23.5 21 M23.5 15 L17.3 21" stroke="#5a5040" stroke-width="0.7"/>
<circle cx="20.4" cy="18" r="1.3" fill="#b07a3a"/>
</g>
<g transform="translate(467.8,416.59999999999997)">
<path d="M0.6 2 L5.6 0.6 V24.4 L0.8 23.6 Z" fill="#31444f"/>
<rect x="1.2" y="6" width="2" height="3.5" fill="#1f2b33"/><rect x="1.2" y="14" width="2" height="4.5" fill="#1f2b33"/>
<rect x="5.2" y="0.4" width="21.6" height="24" rx="0.8" fill="#3c5361"/>
<rect x="5.6" y="0.6" width="20.8" height="1.2" fill="#52687a"/>
<rect x="9.1" y="4.4" width="14" height="8" fill="#a5e2f1"/>
<rect x="11" y="5.5" width="4" height="5.5" fill="#bdeef8" opacity="0.7"/>
<rect x="6.8" y="3.3" width="2" height="1.8" fill="#d8342a"/>
<rect x="8.6" y="3.6" width="3.8" height="1.5" fill="#e88a2a"/>
<rect x="9.1" y="17" width="2.3" height="5.2" fill="#141a1f"/>
<circle cx="20.4" cy="18" r="3.9" fill="#ec9a30"/>
<path d="M17.3 15 L23.5 21 M23.5 15 L17.3 21" stroke="#5a5040" stroke-width="0.7"/>
<circle cx="20.4" cy="18" r="1.3" fill="#b07a3a"/>
</g>
<g transform="translate(467.8,460.7)">
<path d="M0.6 2 L5.6 0.6 V24.4 L0.8 23.6 Z" fill="#31444f"/>
<rect x="1.2" y="6" width="2" height="3.5" fill="#1f2b33"/><rect x="1.2" y="14" width="2" height="4.5" fill="#1f2b33"/>
<rect x="5.2" y="0.4" width="21.6" height="24" rx="0.8" fill="#3c5361"/>
<rect x="5.6" y="0.6" width="20.8" height="1.2" fill="#52687a"/>
<rect x="9.1" y="4.4" width="14" height="8" fill="#a5e2f1"/>
<rect x="11" y="5.5" width="4" height="5.5" fill="#bdeef8" opacity="0.7"/>
<rect x="6.8" y="3.3" width="2" height="1.8" fill="#d8342a"/>
<rect x="8.6" y="3.6" width="3.8" height="1.5" fill="#e88a2a"/>
<rect x="9.1" y="17" width="2.3" height="5.2" fill="#141a1f"/>
<circle cx="20.4" cy="18" r="3.9" fill="#ec9a30"/>
<path d="M17.3 15 L23.5 21 M23.5 15 L17.3 21" stroke="#5a5040" stroke-width="0.7"/>
<circle cx="20.4" cy="18" r="1.3" fill="#b07a3a"/>
</g>
<g transform="translate(467.8,506.5)">
<path d="M0.6 2 L5.6 0.6 V24.4 L0.8 23.6 Z" fill="#31444f"/>
<rect x="1.2" y="6" width="2" height="3.5" fill="#1f2b33"/><rect x="1.2" y="14" width="2" height="4.5" fill="#1f2b33"/>
<rect x="5.2" y="0.4" width="21.6" height="24" rx="0.8" fill="#3c5361"/>
<rect x="5.6" y="0.6" width="20.8" height="1.2" fill="#52687a"/>
<rect x="9.1" y="4.4" width="14" height="8" fill="#a5e2f1"/>
<rect x="11" y="5.5" width="4" height="5.5" fill="#bdeef8" opacity="0.7"/>
<rect x="6.8" y="3.3" width="2" height="1.8" fill="#d8342a"/>
<rect x="8.6" y="3.6" width="3.8" height="1.5" fill="#e88a2a"/>
<rect x="9.1" y="17" width="2.3" height="5.2" fill="#141a1f"/>
<circle cx="20.4" cy="18" r="3.9" fill="#ec9a30"/>
<path d="M17.3 15 L23.5 21 M23.5 15 L17.3 21" stroke="#5a5040" stroke-width="0.7"/>
<circle cx="20.4" cy="18" r="1.3" fill="#b07a3a"/>
</g>
<g transform="translate(467.8,552.3000000000001)">
<path d="M0.6 2 L5.6 0.6 V24.4 L0.8 23.6 Z" fill="#31444f"/>
<rect x="1.2" y="6" width="2" height="3.5" fill="#1f2b33"/><rect x="1.2" y="14" width="2" height="4.5" fill="#1f2b33"/>
<rect x="5.2" y="0.4" width="21.6" height="24" rx="0.8" fill="#3c5361"/>
<rect x="5.6" y="0.6" width="20.8" height="1.2" fill="#52687a"/>
<rect x="9.1" y="4.4" width="14" height="8" fill="#a5e2f1"/>
<rect x="11" y="5.5" width="4" height="5.5" fill="#bdeef8" opacity="0.7"/>
<rect x="6.8" y="3.3" width="2" height="1.8" fill="#d8342a"/>
<rect x="8.6" y="3.6" width="3.8" height="1.5" fill="#e88a2a"/>
<rect x="9.1" y="17" width="2.3" height="5.2" fill="#141a1f"/>
<circle cx="20.4" cy="18" r="3.9" fill="#ec9a30"/>
<path d="M17.3 15 L23.5 21 M23.5 15 L17.3 21" stroke="#5a5040" stroke-width="0.7"/>
<circle cx="20.4" cy="18" r="1.3" fill="#b07a3a"/>
</g>
<g transform="translate(517.2,333.7)">
<rect x="0" y="0" width="5.2" height="38.7" fill="#d4d6d8"/>
<rect x="0" y="0" width="1.2" height="38.7" fill="#e2e4e6"/>
<rect x="4.8" y="1.2" width="23.5" height="38.7" fill="#c9cbcd"/>
<rect x="5.2" y="2.3" width="22.8" height="2.9" fill="#9aa1a5"/>
<rect x="24" y="2.6" width="3.5" height="2" fill="#2a2a2a"/>
<rect x="6.5" y="8" width="19.8" height="14.5" fill="#2c3035"/>
<rect x="7.7" y="9.2" width="6.9" height="12.1" fill="#a4d4ec"/>
<rect x="15.5" y="9.5" width="4" height="12" fill="#3a3f44"/>
<rect x="20.2" y="9.2" width="5.6" height="12" fill="#e4e7ea"/>
<rect x="21.5" y="10.5" width="2" height="2.2" fill="#333"/><rect x="21.8" y="13.8" width="2.6" height="2" fill="#333"/><rect x="21.5" y="17" width="2" height="2.6" fill="#333"/>
<g fill="#3aa8d2"><circle cx="10.5" cy="25.2" r="1.6"/><circle cx="7.9" cy="27.8" r="1.6"/><circle cx="13.1" cy="27.8" r="1.6"/><circle cx="10.5" cy="30.4" r="1.6"/>
<circle cx="17" cy="30.6" r="1.5"/><circle cx="21.4" cy="30.6" r="1.5"/><circle cx="24.2" cy="30.6" r="1.5"/>
<circle cx="17" cy="34.2" r="1.5"/><circle cx="21.4" cy="34.2" r="1.5"/><circle cx="24.2" cy="34.2" r="1.5"/></g>
<rect x="20" y="25" width="5" height="1.2" fill="#b06060" opacity="0.7"/>
<rect x="7.6" y="34.6" width="2" height="2" fill="#222"/>
<rect x="5" y="37.9" width="23.3" height="2" fill="#9ca3a7"/>
</g>
<g transform="translate(572.3,333.7)">
<rect x="0" y="0" width="5.2" height="38.7" fill="#d4d6d8"/>
<rect x="0" y="0" width="1.2" height="38.7" fill="#e2e4e6"/>
<rect x="4.8" y="1.2" width="23.5" height="38.7" fill="#c9cbcd"/>
<rect x="5.2" y="2.3" width="22.8" height="2.9" fill="#9aa1a5"/>
<rect x="24" y="2.6" width="3.5" height="2" fill="#2a2a2a"/>
<rect x="6.5" y="8" width="19.8" height="14.5" fill="#2c3035"/>
<rect x="7.7" y="9.2" width="6.9" height="12.1" fill="#a4d4ec"/>
<rect x="15.5" y="9.5" width="4" height="12" fill="#3a3f44"/>
<rect x="20.2" y="9.2" width="5.6" height="12" fill="#e4e7ea"/>
<rect x="21.5" y="10.5" width="2" height="2.2" fill="#333"/><rect x="21.8" y="13.8" width="2.6" height="2" fill="#333"/><rect x="21.5" y="17" width="2" height="2.6" fill="#333"/>
<g fill="#3aa8d2"><circle cx="10.5" cy="25.2" r="1.6"/><circle cx="7.9" cy="27.8" r="1.6"/><circle cx="13.1" cy="27.8" r="1.6"/><circle cx="10.5" cy="30.4" r="1.6"/>
<circle cx="17" cy="30.6" r="1.5"/><circle cx="21.4" cy="30.6" r="1.5"/><circle cx="24.2" cy="30.6" r="1.5"/>
<circle cx="17" cy="34.2" r="1.5"/><circle cx="21.4" cy="34.2" r="1.5"/><circle cx="24.2" cy="34.2" r="1.5"/></g>
<rect x="20" y="25" width="5" height="1.2" fill="#b06060" opacity="0.7"/>
<rect x="7.6" y="34.6" width="2" height="2" fill="#222"/>
<rect x="5" y="37.9" width="23.3" height="2" fill="#9ca3a7"/>
</g>
<g transform="translate(519,393.5)">
<rect x="0" y="0" width="5.2" height="38.7" fill="#d4d6d8"/>
<rect x="0" y="0" width="1.2" height="38.7" fill="#e2e4e6"/>
<rect x="4.8" y="1.2" width="23.5" height="38.7" fill="#c9cbcd"/>
<rect x="5.2" y="2.3" width="22.8" height="2.9" fill="#9aa1a5"/>
<rect x="24" y="2.6" width="3.5" height="2" fill="#2a2a2a"/>
<rect x="6.5" y="8" width="19.8" height="14.5" fill="#2c3035"/>
<rect x="7.7" y="9.2" width="6.9" height="12.1" fill="#a4d4ec"/>
<rect x="15.5" y="9.5" width="4" height="12" fill="#3a3f44"/>
<rect x="20.2" y="9.2" width="5.6" height="12" fill="#e4e7ea"/>
<rect x="21.5" y="10.5" width="2" height="2.2" fill="#333"/><rect x="21.8" y="13.8" width="2.6" height="2" fill="#333"/><rect x="21.5" y="17" width="2" height="2.6" fill="#333"/>
<g fill="#3aa8d2"><circle cx="10.5" cy="25.2" r="1.6"/><circle cx="7.9" cy="27.8" r="1.6"/><circle cx="13.1" cy="27.8" r="1.6"/><circle cx="10.5" cy="30.4" r="1.6"/>
<circle cx="17" cy="30.6" r="1.5"/><circle cx="21.4" cy="30.6" r="1.5"/><circle cx="24.2" cy="30.6" r="1.5"/>
<circle cx="17" cy="34.2" r="1.5"/><circle cx="21.4" cy="34.2" r="1.5"/><circle cx="24.2" cy="34.2" r="1.5"/></g>
<rect x="20" y="25" width="5" height="1.2" fill="#b06060" opacity="0.7"/>
<rect x="7.6" y="34.6" width="2" height="2" fill="#222"/>
<rect x="5" y="37.9" width="23.3" height="2" fill="#9ca3a7"/>
</g>
<g transform="translate(574.5,394)">
<rect x="0" y="0" width="5.2" height="38.7" fill="#d4d6d8"/>
<rect x="0" y="0" width="1.2" height="38.7" fill="#e2e4e6"/>
<rect x="4.8" y="1.2" width="23.5" height="38.7" fill="#c9cbcd"/>
<rect x="5.2" y="2.3" width="22.8" height="2.9" fill="#9aa1a5"/>
<rect x="24" y="2.6" width="3.5" height="2" fill="#2a2a2a"/>
<rect x="6.5" y="8" width="19.8" height="14.5" fill="#2c3035"/>
<rect x="7.7" y="9.2" width="6.9" height="12.1" fill="#a4d4ec"/>
<rect x="15.5" y="9.5" width="4" height="12" fill="#3a3f44"/>
<rect x="20.2" y="9.2" width="5.6" height="12" fill="#e4e7ea"/>
<rect x="21.5" y="10.5" width="2" height="2.2" fill="#333"/><rect x="21.8" y="13.8" width="2.6" height="2" fill="#333"/><rect x="21.5" y="17" width="2" height="2.6" fill="#333"/>
<g fill="#3aa8d2"><circle cx="10.5" cy="25.2" r="1.6"/><circle cx="7.9" cy="27.8" r="1.6"/><circle cx="13.1" cy="27.8" r="1.6"/><circle cx="10.5" cy="30.4" r="1.6"/>
<circle cx="17" cy="30.6" r="1.5"/><circle cx="21.4" cy="30.6" r="1.5"/><circle cx="24.2" cy="30.6" r="1.5"/>
<circle cx="17" cy="34.2" r="1.5"/><circle cx="21.4" cy="34.2" r="1.5"/><circle cx="24.2" cy="34.2" r="1.5"/></g>
<rect x="20" y="25" width="5" height="1.2" fill="#b06060" opacity="0.7"/>
<rect x="7.6" y="34.6" width="2" height="2" fill="#222"/>
<rect x="5" y="37.9" width="23.3" height="2" fill="#9ca3a7"/>
</g>
<g transform="translate(519,453.3)">
<rect x="0" y="0" width="5.2" height="38.7" fill="#d4d6d8"/>
<rect x="0" y="0" width="1.2" height="38.7" fill="#e2e4e6"/>
<rect x="4.8" y="1.2" width="23.5" height="38.7" fill="#c9cbcd"/>
<rect x="5.2" y="2.3" width="22.8" height="2.9" fill="#9aa1a5"/>
<rect x="24" y="2.6" width="3.5" height="2" fill="#2a2a2a"/>
<rect x="6.5" y="8" width="19.8" height="14.5" fill="#2c3035"/>
<rect x="7.7" y="9.2" width="6.9" height="12.1" fill="#a4d4ec"/>
<rect x="15.5" y="9.5" width="4" height="12" fill="#3a3f44"/>
<rect x="20.2" y="9.2" width="5.6" height="12" fill="#e4e7ea"/>
<rect x="21.5" y="10.5" width="2" height="2.2" fill="#333"/><rect x="21.8" y="13.8" width="2.6" height="2" fill="#333"/><rect x="21.5" y="17" width="2" height="2.6" fill="#333"/>
<g fill="#3aa8d2"><circle cx="10.5" cy="25.2" r="1.6"/><circle cx="7.9" cy="27.8" r="1.6"/><circle cx="13.1" cy="27.8" r="1.6"/><circle cx="10.5" cy="30.4" r="1.6"/>
<circle cx="17" cy="30.6" r="1.5"/><circle cx="21.4" cy="30.6" r="1.5"/><circle cx="24.2" cy="30.6" r="1.5"/>
<circle cx="17" cy="34.2" r="1.5"/><circle cx="21.4" cy="34.2" r="1.5"/><circle cx="24.2" cy="34.2" r="1.5"/></g>
<rect x="20" y="25" width="5" height="1.2" fill="#b06060" opacity="0.7"/>
<rect x="7.6" y="34.6" width="2" height="2" fill="#222"/>
<rect x="5" y="37.9" width="23.3" height="2" fill="#9ca3a7"/>
</g>
<g transform="translate(574.5,453.5)">
<rect x="0" y="0" width="5.2" height="38.7" fill="#d4d6d8"/>
<rect x="0" y="0" width="1.2" height="38.7" fill="#e2e4e6"/>
<rect x="4.8" y="1.2" width="23.5" height="38.7" fill="#c9cbcd"/>
<rect x="5.2" y="2.3" width="22.8" height="2.9" fill="#9aa1a5"/>
<rect x="24" y="2.6" width="3.5" height="2" fill="#2a2a2a"/>
<rect x="6.5" y="8" width="19.8" height="14.5" fill="#2c3035"/>
<rect x="7.7" y="9.2" width="6.9" height="12.1" fill="#a4d4ec"/>
<rect x="15.5" y="9.5" width="4" height="12" fill="#3a3f44"/>
<rect x="20.2" y="9.2" width="5.6" height="12" fill="#e4e7ea"/>
<rect x="21.5" y="10.5" width="2" height="2.2" fill="#333"/><rect x="21.8" y="13.8" width="2.6" height="2" fill="#333"/><rect x="21.5" y="17" width="2" height="2.6" fill="#333"/>
<g fill="#3aa8d2"><circle cx="10.5" cy="25.2" r="1.6"/><circle cx="7.9" cy="27.8" r="1.6"/><circle cx="13.1" cy="27.8" r="1.6"/><circle cx="10.5" cy="30.4" r="1.6"/>
<circle cx="17" cy="30.6" r="1.5"/><circle cx="21.4" cy="30.6" r="1.5"/><circle cx="24.2" cy="30.6" r="1.5"/>
<circle cx="17" cy="34.2" r="1.5"/><circle cx="21.4" cy="34.2" r="1.5"/><circle cx="24.2" cy="34.2" r="1.5"/></g>
<rect x="20" y="25" width="5" height="1.2" fill="#b06060" opacity="0.7"/>
<rect x="7.6" y="34.6" width="2" height="2" fill="#222"/>
<rect x="5" y="37.9" width="23.3" height="2" fill="#9ca3a7"/>
</g>
<text class="cjk" x="288.07" y="118.08" font-size="16.09" textLength="40.22" lengthAdjust="spacingAndGlyphs">显示器</text>
<text class="cjk" x="416.81" y="117.93" font-size="16.14" textLength="41.41" lengthAdjust="spacingAndGlyphs">服务器</text>
<text class="lat" x="498.29" y="117.90" font-size="16.79" textLength="20.52" lengthAdjust="spacingAndGlyphs">UPS</text>
<text class="cjk" x="592.42" y="118.02" font-size="15.26" textLength="39.62" lengthAdjust="spacingAndGlyphs">打印机</text>
<text class="lat" x="218.56" y="192.72" font-size="13.42" textLength="30.15" lengthAdjust="spacingAndGlyphs">RS485</text>
<text class="cjk" x="248.53" y="192.32" font-size="12.79" textLength="46.31" lengthAdjust="spacingAndGlyphs">通讯总线</text>
<text class="cjk" x="219.41" y="213.72" font-size="13.66" textLength="47.70" lengthAdjust="spacingAndGlyphs">以太网线</text>
<text class="cjk" x="470.36" y="207.65" font-size="12.44" textLength="80.80" lengthAdjust="spacingAndGlyphs">工业网络交换机</text>
<text class="lat" x="552.60" y="207.13" font-size="14.48" textLength="6.45" lengthAdjust="spacingAndGlyphs">(</text>
<text class="cjk" x="557.66" y="207.92" font-size="14.89" textLength="34.94" lengthAdjust="spacingAndGlyphs">以太网</text>
<text class="lat" x="591.08" y="207.12" font-size="14.24" textLength="7.49" lengthAdjust="spacingAndGlyphs">)</text>
<text class="lat" x="605.51" y="207.90" font-size="14.59" textLength="34.18" lengthAdjust="spacingAndGlyphs">TCP/IP</text>
<text class="cjk" x="476.60" y="285.26" font-size="13.84" textLength="58.97" lengthAdjust="spacingAndGlyphs">通讯管理机</text>
<text class="lat" x="275.52" y="362.28" font-size="12.86" textLength="26.36" lengthAdjust="spacingAndGlyphs">AEM96</text>
<text class="lat" x="275.52" y="407.86" font-size="12.86" textLength="26.36" lengthAdjust="spacingAndGlyphs">AEM96</text>
<text class="lat" x="275.52" y="452.36" font-size="12.86" textLength="26.36" lengthAdjust="spacingAndGlyphs">AEM96</text>
<text class="lat" x="275.52" y="497.00" font-size="12.86" textLength="26.36" lengthAdjust="spacingAndGlyphs">AEM96</text>
<text class="lat" x="275.52" y="541.78" font-size="12.86" textLength="26.36" lengthAdjust="spacingAndGlyphs">AEM96</text>
<text class="lat" x="275.52" y="586.64" font-size="12.86" textLength="26.36" lengthAdjust="spacingAndGlyphs">AEM96</text>
<text class="lat" x="339.88" y="362.64" font-size="12.84" textLength="25.88" lengthAdjust="spacingAndGlyphs">AEM96</text>
<text class="lat" x="339.88" y="407.42" font-size="12.84" textLength="25.88" lengthAdjust="spacingAndGlyphs">AEM96</text>
<text class="lat" x="339.88" y="452.72" font-size="12.84" textLength="25.88" lengthAdjust="spacingAndGlyphs">AEM96</text>
<text class="lat" x="339.88" y="497.36" font-size="12.84" textLength="25.88" lengthAdjust="spacingAndGlyphs">AEM96</text>
<text class="lat" x="339.88" y="542.14" font-size="12.84" textLength="25.88" lengthAdjust="spacingAndGlyphs">AEM96</text>
<text class="lat" x="339.88" y="587.00" font-size="12.84" textLength="25.88" lengthAdjust="spacingAndGlyphs">AEM96</text>
<text class="lat" x="406.05" y="363.00" font-size="12.83" textLength="26.06" lengthAdjust="spacingAndGlyphs">AEM96</text>
<text class="lat" x="406.05" y="407.78" font-size="12.83" textLength="26.06" lengthAdjust="spacingAndGlyphs">AEM96</text>
<text class="lat" x="406.05" y="452.28" font-size="12.83" textLength="26.06" lengthAdjust="spacingAndGlyphs">AEM96</text>
<text class="lat" x="406.05" y="497.72" font-size="12.83" textLength="26.06" lengthAdjust="spacingAndGlyphs">AEM96</text>
<text class="lat" x="406.05" y="542.50" font-size="12.83" textLength="26.06" lengthAdjust="spacingAndGlyphs">AEM96</text>
<text class="lat" x="406.05" y="587.36" font-size="12.83" textLength="26.06" lengthAdjust="spacingAndGlyphs">AEM96</text>
<text class="lat" x="472.52" y="363.28" font-size="12.86" textLength="26.36" lengthAdjust="spacingAndGlyphs">AEM96</text>
<text class="lat" x="472.52" y="408.86" font-size="12.86" textLength="26.36" lengthAdjust="spacingAndGlyphs">AEM96</text>
<text class="lat" x="472.52" y="453.36" font-size="12.86" textLength="26.36" lengthAdjust="spacingAndGlyphs">AEM96</text>
<text class="lat" x="472.52" y="498.00" font-size="12.86" textLength="26.36" lengthAdjust="spacingAndGlyphs">AEM96</text>
<text class="lat" x="472.52" y="542.78" font-size="12.86" textLength="26.36" lengthAdjust="spacingAndGlyphs">AEM96</text>
<text class="lat" x="472.52" y="587.64" font-size="12.86" textLength="26.36" lengthAdjust="spacingAndGlyphs">AEM96</text>
<text class="cjk" x="275.52" y="601.91" font-size="13.36" textLength="23.64" lengthAdjust="spacingAndGlyphs">电表</text>
<text class="cjk" x="339.78" y="602.63" font-size="13.98" textLength="23.93" lengthAdjust="spacingAndGlyphs">电表</text>
<text class="cjk" x="406.31" y="602.63" font-size="13.72" textLength="23.44" lengthAdjust="spacingAndGlyphs">电表</text>
<text class="cjk" x="473.25" y="602.64" font-size="13.06" textLength="23.64" lengthAdjust="spacingAndGlyphs">电表</text>
<text class="cjk" x="524.50" y="602.95" font-size="14.69" textLength="23.32" lengthAdjust="spacingAndGlyphs">综保</text>
<text class="cjk" x="580.56" y="602.95" font-size="14.97" textLength="23.98" lengthAdjust="spacingAndGlyphs">综保</text>
</svg>
</body></html>
